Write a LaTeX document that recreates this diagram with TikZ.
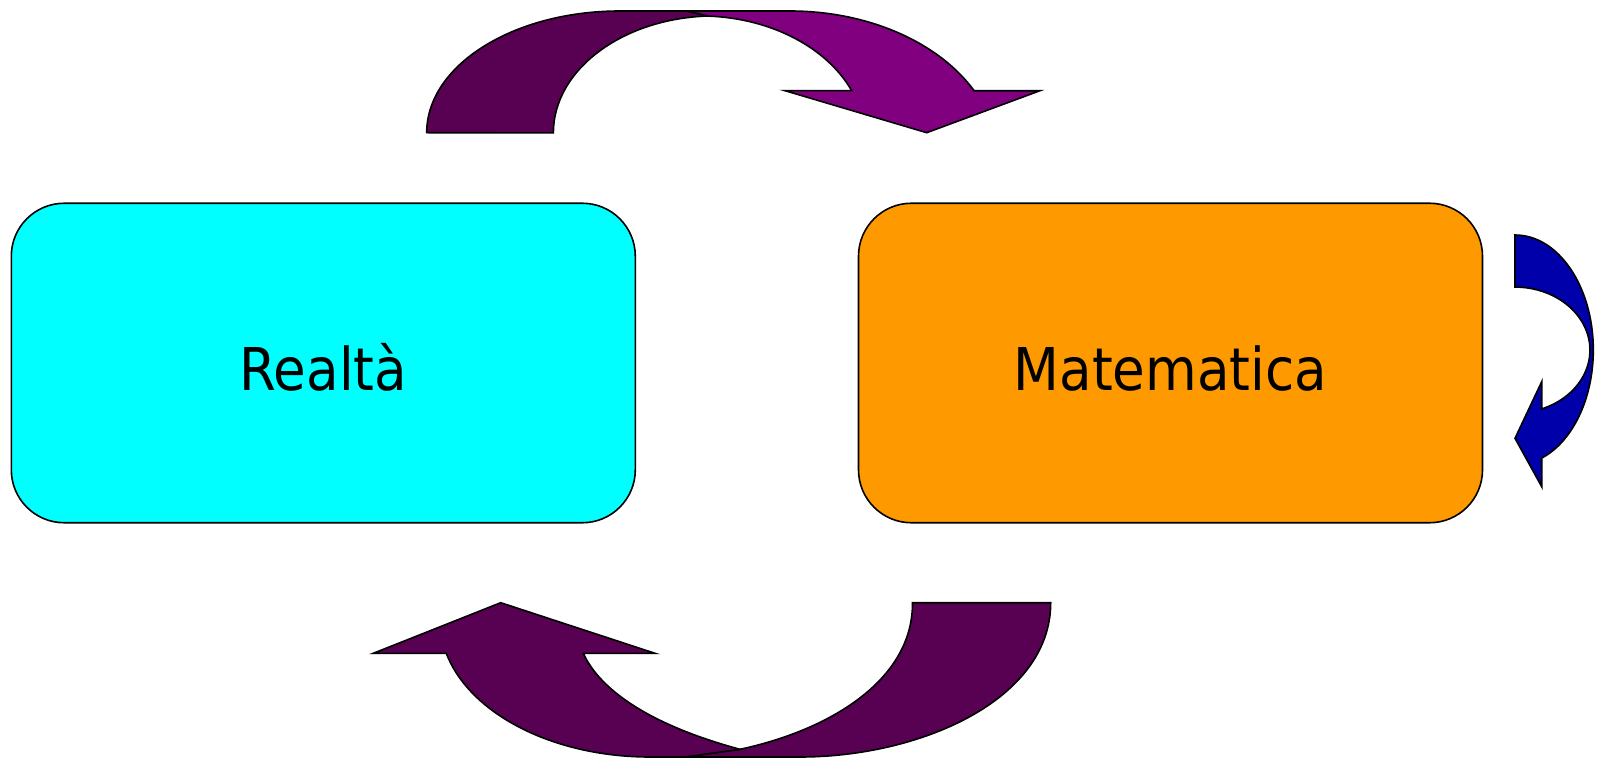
\documentclass[tikz,border=0pt]{standalone}
\usepackage{fontspec}
\setmainfont{DejaVu Sans}
\newfontfamily\panelfont[FakeStretch=0.9]{DejaVu Sans}
\definecolor{plumdark}{RGB}{88,0,82}
\definecolor{plumlight}{RGB}{128,0,128}
\definecolor{boxcyan}{RGB}{0,255,255}
\definecolor{boxorange}{RGB}{255,153,0}
\definecolor{loopblue}{RGB}{0,0,170}
\tikzset{
  outline/.style={draw=black, line width=1.6pt, line join=miter},
  panel/.style={outline, rounded corners=53pt, minimum width=624pt,
    minimum height=319.5pt, inner sep=0pt, text height=54pt, text depth=0pt,
    font=\panelfont\fontsize{59}{66}\selectfont},
}
\begin{document}
\begin{tikzpicture}[x=1pt, y=-1pt]
\useasboundingbox (0,0) rectangle (1604,759);

% the two panels
\node[panel, fill=boxcyan] (real) at (323.3,363) {Realtà};
\node[panel, fill=boxorange] (math) at (1170.5,363) {Matematica};

% upper curved arrow: back band, then front band with head
\path[outline, fill=plumdark] (426.7,132.7)
  arc[start angle=180, end angle=270, x radius=193.3, y radius=121.7]
  -- (686.7,11) -- (708.3,16)
  arc[start angle=267.6, end angle=180, x radius=161.7, y radius=117]
  -- cycle;
\path[outline, fill=plumlight] (686.7,11) -- (790,11)
  arc[start angle=-90, end angle=-27.7, x radius=208, y radius=149]
  -- (1040,90.7) -- (926.7,132.7) -- (785,90.7) -- (851.7,90.7)
  arc[start angle=-23.4, end angle=-87.1, x radius=165, y radius=124]
  -- cycle;

% lower curved arrow: tail band, then band with head
\path[outline, fill=plumdark] (912.5,602.7) -- (1050.7,602.7)
  .. controls (1050.7,700) and (920,757) .. (800,757)
  -- (685,757) -- (740,749.3)
  .. controls (830,730) and (913,680) .. (912.5,602.7) -- cycle;
\path[outline, fill=plumdark] (373.3,653.3) -- (500.7,602.7) -- (655,653.3)
  -- (583.3,653.3) .. controls (600,690) and (650,725) .. (740,749.3)
  -- (685,757) -- (650,757)
  arc[start angle=90, end angle=165.9, x radius=210, y radius=137]
  -- cycle;

% small loop arrow beside the right panel
\path[outline, fill=loopblue] (1515,235)
  arc[start angle=-90, end angle=70, x radius=78.3, y radius=115]
  -- (1541.7,486.7) -- (1515,438.3) -- (1541.7,381.7) -- (1541.7,408.9)
  arc[start angle=69.1, end angle=-90, x radius=75, y radius=63]
  -- cycle;
\end{tikzpicture}
\end{document}
